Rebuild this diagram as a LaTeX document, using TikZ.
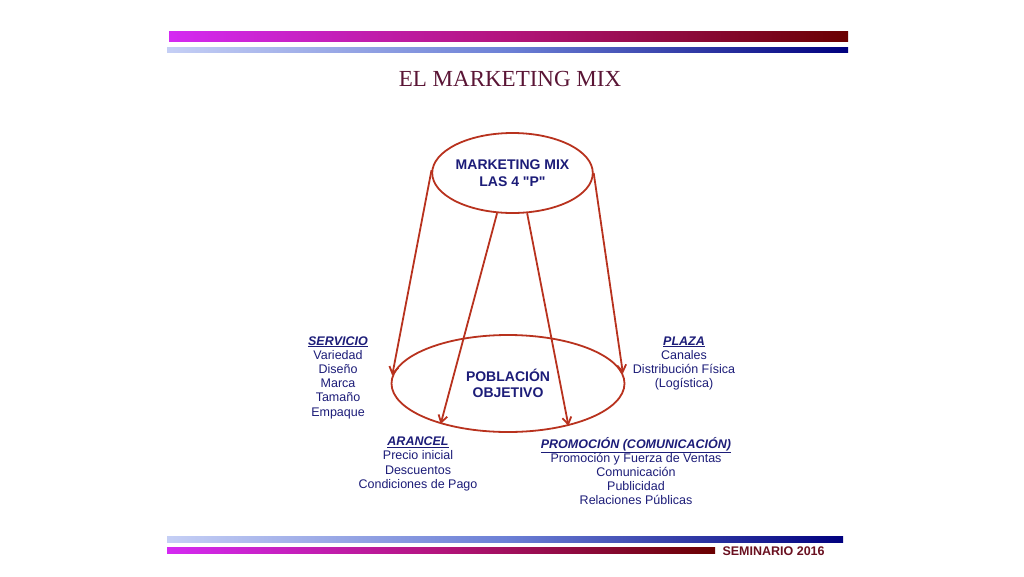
\documentclass[tikz,border=0pt]{standalone}
\usepackage{fontspec}
\setmainfont{Liberation Serif}
\setsansfont{Liberation Sans}[Ligatures=TeXOff]
\usetikzlibrary{arrows.meta, shapes.geometric}

\definecolor{barmag}{HTML}{D42AF2}
\definecolor{barmid}{HTML}{B3147C}
\definecolor{barred}{HTML}{6A0000}
\definecolor{barlight}{HTML}{C5CFF5}
\definecolor{barblue}{HTML}{6C80D6}
\definecolor{barnavy}{HTML}{00007E}
\definecolor{titlecol}{HTML}{5A1535}
\definecolor{navytext}{HTML}{1C1C78}
\definecolor{mixred}{HTML}{B8321E}
\definecolor{footcol}{HTML}{6A1020}

\pgfdeclarehorizontalshading{magentabar}{100bp}{color(0bp)=(barmag); color(25bp)=(barmag); color(50bp)=(barmid); color(75bp)=(barred); color(100bp)=(barred)}
\pgfdeclarehorizontalshading{bluebar}{100bp}{color(0bp)=(barlight); color(25bp)=(barlight); color(50bp)=(barblue); color(75bp)=(barnavy); color(100bp)=(barnavy)}

\tikzset{
  pellipse/.style={ellipse, draw=mixred, line width=1.8pt, inner sep=0pt, align=center,
    text=navytext, font=\sffamily\bfseries\fontsize{14}{16.5}\selectfont},
  pblock/.style={font=\sffamily\fontsize{12.5}{14.2}\selectfont, text=navytext, align=center, inner sep=0pt},
  parrow/.style={draw=mixred, line width=1.8pt, -{Straight Barb[length=7pt, width=9pt]}}
}
\newcommand{\phead}[1]{\underline{\textbf{\textit{#1}}}}

\begin{document}
\begin{tikzpicture}[x=1pt, y=-1pt]
    \useasboundingbox (0, 0) rectangle (1024, 576);
    % header and footer bars
    \shade [shading=magentabar] (169, 31) rectangle (848, 41);
    \shade [shading=bluebar] (167, 47) rectangle (848, 52);
    \shade [shading=bluebar] (167, 536) rectangle (843, 542);
    \shade [shading=magentabar] (167, 547) rectangle (715, 553);
    \node [font=\fontsize{23}{26}\selectfont, text=titlecol] (title) at (510, 79) {EL MARKETING MIX};
    \node [font=\sffamily\bfseries\fontsize{12.5}{14}\selectfont, text=footcol, anchor=west] (foot) at (719, 551) {SEMINARIO 2016};

    % the two ellipses
    \node [pellipse, minimum width=151pt, minimum height=80pt] (mm) at (512.5, 173) {MARKETING MIX\\LAS 4 "P"};
    \node [pellipse, minimum width=233pt, minimum height=97pt] (po) at (508, 383.5) {POBLACIÓN\\OBJETIVO};

    \draw [parrow] (mm.178) -- (po.176);
    \draw [parrow] (mm.249) -- (po.211);
    \draw [parrow] (mm.290) -- (po.325);
    \draw [parrow] (mm.east) -- (po.5);

    % the four P
    \node [pblock] (servicio) at (338, 377.5) {\phead{SERVICIO}\\Variedad\\Diseño\\Marca\\Tamaño\\Empaque};
    \node [pblock] (plaza) at (684, 363.5) {\phead{PLAZA}\\Canales\\Distribución Física\\(Logística)};
    \node [pblock] (arancel) at (418, 464) {\phead{ARANCEL}\\Precio inicial\\Descuentos\\Condiciones de Pago};
    \node [pblock] (promocion) at (636, 471) {\phead{PROMOCIÓN (COMUNICACIÓN)}\\Promoción y Fuerza de Ventas\\Comunicación\\Publicidad\\Relaciones Públicas};
\end{tikzpicture}
\end{document}
